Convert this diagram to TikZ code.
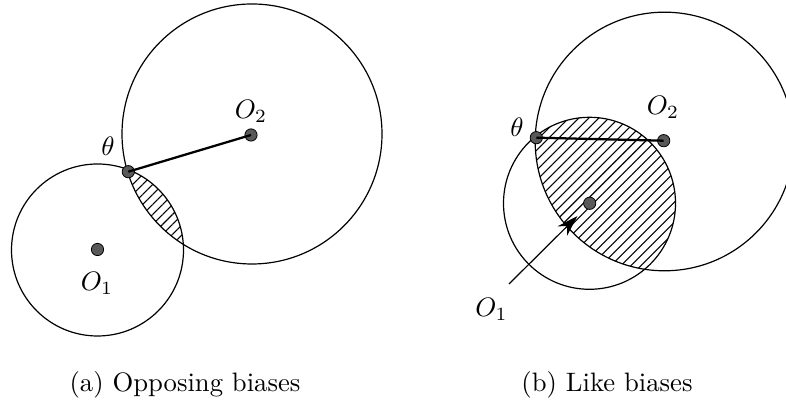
\documentclass[tikz,border=0pt]{standalone}
\usetikzlibrary{patterns.meta,arrows.meta}
\begin{document}
\begin{tikzpicture}[x=0.375pt,y=-0.375pt,
  circ/.style={line width=0.45pt},
  dot/.style={circle,fill=black!65,draw=black,line width=0.3pt,inner sep=0pt,minimum size=4.6pt},
  hatch/.style={pattern={Lines[angle=45,distance=2.65pt,line width=0.4pt]}},
  seg/.style={line width=0.85pt},
  lab/.style={inner sep=0pt},
  captext/.style={inner sep=0pt,font=\fontsize{10}{12}\selectfont}]
\useasboundingbox (0,0) rectangle (786,407);
\clip (0,0) rectangle (786,407);
% ---------- (a) ----------
\coordinate (a1) at (97.5,250);
\coordinate (a2) at (252,134);
\begin{scope}
  \clip (a1) circle[radius=86];
  \fill[hatch] (a2) circle[radius=130];
\end{scope}
\draw[circ] (a1) circle[radius=86];
\draw[circ] (a2) circle[radius=130];
\node[dot] (ad1) at (97.5,249.5) {};
\node[dot] (ad2) at (251,135) {};
\node[dot] (ath) at (128.3,171.7) {};
\draw[seg] (ath.center) -- (ad2.center);
\node[lab] (aO1) at (97,283) {$O_1$};
\node[lab] (aO2) at (251,111.5) {$O_2$};
\node[lab] (ath-l) at (108,146.5) {$\theta$};
\node[captext] (capa) at (185,385) {(a) Opposing biases};
% ---------- (b) ----------
\coordinate (b1) at (589.5,203.3);
\coordinate (b2) at (664.5,141.5);
\begin{scope}
  \clip (b1) circle[radius=86];
  \fill[hatch] (b2) circle[radius=129.3];
\end{scope}
\draw[circ] (b1) circle[radius=86];
\draw[circ] (b2) circle[radius=129.3];
\node[dot] (bd1) at (589.7,203.3) {};
\node[dot] (bd2) at (663.7,140.7) {};
\node[dot] (bth) at (536.3,137.7) {};
\draw[seg] (bth.center) -- (bd2.center);
\coordinate (btail) at (509,284);
\coordinate (bhead) at (577.5,216);
\draw[line width=0.45pt,-{Stealth[length=8pt,width=5pt]}] (btail) -- (bhead);
\node[lab] (bO1) at (491.5,309.5) {$O_1$};
\node[lab] (bO2) at (663,107.5) {$O_2$};
\node[lab] (bth-l) at (517,127.5) {$\theta$};
\node[captext] (capb) at (607,385) {(b) Like biases};
\end{tikzpicture}
\end{document}
